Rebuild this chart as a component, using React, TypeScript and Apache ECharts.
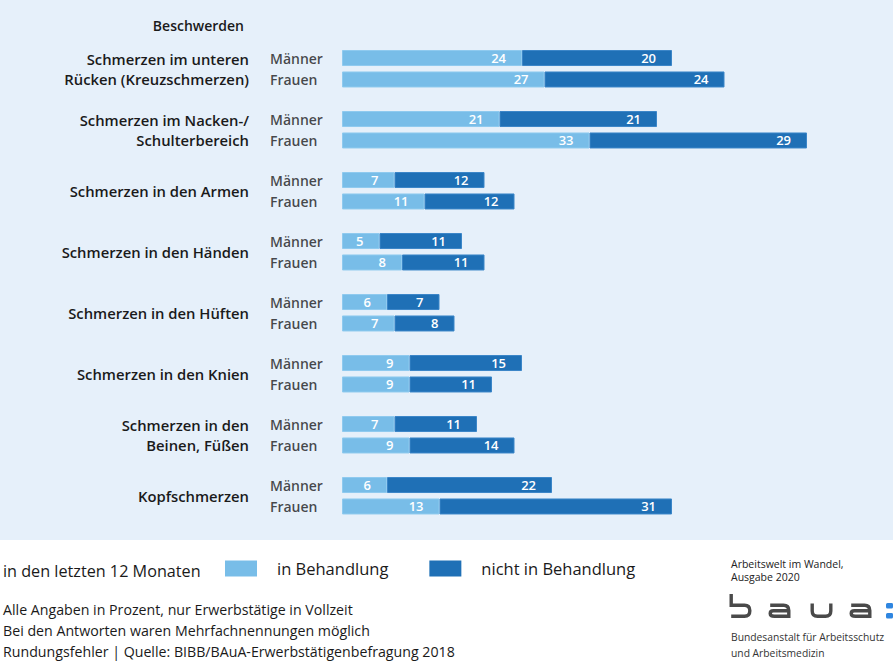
import React, { useEffect, useRef } from "react";
import * as echarts from "echarts";

const categories = [
  "Schmerzen im unteren\nRücken (Kreuzschmerzen)",
  "Schmerzen im Nacken-/\nSchulterbereich",
  "Schmerzen in den Armen",
  "Schmerzen in den Händen",
  "Schmerzen in den Hüften",
  "Schmerzen in den Knien",
  "Schmerzen in den\nBeinen, Füßen",
  "Kopfschmerzen",
];
const genderLabels = ["Männer", "Frauen"];
const menTreated = [24, 21, 7, 5, 6, 9, 7, 6];
const menUntreated = [20, 21, 12, 11, 7, 15, 11, 22];
const womenTreated = [27, 33, 11, 8, 7, 9, 9, 13];
const womenUntreated = [24, 29, 12, 11, 8, 11, 14, 31];
const seriesNames = ["in Behandlung", "nicht in Behandlung"];
const footerLines = [
  "Alle Angaben in Prozent, nur Erwerbstätige in Vollzeit",
  "Bei den Antworten waren Mehrfachnennungen möglich",
  "Rundungsfehler | Quelle: BIBB/BAuA-Erwerbstätigenbefragung 2018",
];

const LIGHT = "#78bde8";
const DARK = "#1f70b6";
const FONT = "'Open Sans', 'Noto Sans', sans-serif";

const LOGO_D =
  "M1.7,0 V11.2 H15 Q20.3,11.2 20.3,16.5 V17 Q20.3,22.3 15,22.3 H1.7 " +
  "M40.7,11.2 H54 Q59.3,11.2 59.3,16.5 V22.3 H45 Q40.7,22.3 40.7,19.5 Q40.7,16.8 44,16.8 H59.3 " +
  "M82.7,9.5 V17 Q82.7,22.3 88,22.3 H96 Q101.3,22.3 101.3,17 V9.5 " +
  "M121.7,11.2 H135 Q140.3,11.2 140.3,16.5 V22.3 H126 Q121.7,22.3 121.7,19.5 Q121.7,16.8 125,16.8 H140.3";

let registered = false;

export default function App() {
  const ref = useRef<HTMLDivElement>(null);
  useEffect(() => {
    if (!ref.current) return;
    if (!registered) {
      echarts.graphic.registerShape("logo", echarts.graphic.extendPath(LOGO_D, {}));
      registered = true;
    }
    const chart = echarts.init(ref.current, null, { renderer: "svg" });
    const valueLabel = {
      show: true,
      position: "insideRight",
      distance: 16,
      color: "#ffffff",
      fontFamily: FONT,
      fontWeight: 600,
      fontSize: 13,
    };
    const barCommon = {
      type: "bar",
      barWidth: 16,
      barGap: "34%",
      label: valueLabel,
    };
    const genderLabel = (idx: number) => ({
      show: true,
      position: "inside",
      align: "left",
      verticalAlign: "middle",
      offset: [-72, idx === 0 ? -10.75 : 10.75],
      formatter: genderLabels[idx],
      color: "#1a1a1a",
      fontFamily: FONT,
      fontWeight: 600,
      fontSize: 14,
    });
    const option: any = {
      animation: false,
      backgroundColor: "#ffffff",
      title: {
        text: "Beschwerden",
        right: 644,
        top: 13,
        textStyle: { fontFamily: FONT, fontWeight: 600, fontSize: 14, color: "#1a1a1a" },
      },
      legend: {
        data: seriesNames,
        left: 220,
        top: 555,
        itemWidth: 32,
        itemHeight: 16,
        itemGap: 41,
        icon: "rect",
        itemStyle: { borderWidth: 0 },
        textStyle: {
          fontFamily: FONT,
          fontSize: 16.5,
          color: "#1a1a1a",
          padding: [0, 0, 0, 15],
        },
        selectedMode: false,
      },
      grid: { left: 342, width: 525, top: 38.25, height: 488, containLabel: false },
      xAxis: {
        type: "value",
        min: 0,
        max: 70,
        show: false,
      },
      yAxis: {
        type: "category",
        data: categories,
        inverse: true,
        axisLine: { show: false },
        axisTick: { show: false },
        splitLine: { show: false },
        axisLabel: {
          margin: 93,
          fontFamily: FONT,
          fontWeight: 600,
          fontSize: 14.8,
          lineHeight: 20,
          color: "#1a1a1a",
          align: "right",
        },
      },
      series: [
        { ...barCommon, name: seriesNames[0], stack: "m", data: menTreated, itemStyle: { color: LIGHT, borderColor: "#8fcaef", borderWidth: 1 } },
        { ...barCommon, name: seriesNames[1], stack: "m", data: menUntreated, itemStyle: { color: DARK, borderColor: "#3b86c8", borderWidth: 1 } },
        { ...barCommon, name: seriesNames[0], stack: "f", data: womenTreated, itemStyle: { color: LIGHT, borderColor: "#8fcaef", borderWidth: 1 } },
        { ...barCommon, name: seriesNames[1], stack: "f", data: womenUntreated, itemStyle: { color: DARK, borderColor: "#3b86c8", borderWidth: 1 } },
        {
          type: "scatter",
          name: "m-label",
          symbolSize: 0,
          silent: true,
          data: categories.map((_, i) => [0, i]),
          label: genderLabel(0),
        },
        {
          type: "scatter",
          name: "f-label",
          symbolSize: 0,
          silent: true,
          data: categories.map((_, i) => [0, i]),
          label: genderLabel(1),
        },
      ],
      graphic: {
        elements: [
          {
            type: "rect",
            z: -100,
            silent: true,
            shape: { x: 0, y: 0, width: 893, height: 540 },
            style: { fill: "#e6f0fa" },
          },
          {
            type: "text",
            x: 3,
            y: 571,
            style: {
              text: "in den letzten 12 Monaten",
              fontFamily: FONT,
              fontSize: 16.2,
              fill: "#1a1a1a",
              verticalAlign: "middle",
            },
          },
          ...footerLines.map((t, i) => ({
            type: "text",
            x: 3,
            y: 609 + i * 21,
            style: {
              text: t,
              fontFamily: FONT,
              fontSize: 14.2,
              fill: "#1a1a1a",
              verticalAlign: "middle",
            },
          })),
          {
            type: "text",
            x: 731,
            y: 557,
            style: {
              text: "Arbeitswelt im Wandel,\nAusgabe 2020",
              fontFamily: FONT,
              fontSize: 10.5,
              lineHeight: 13,
              fill: "#222222",
            },
          },
          {
            type: "logo",
            x: 729.5,
            y: 594,
            style: { fill: "none", stroke: "#4a4a4a", lineWidth: 3.4 },
          },
          {
            type: "rect",
            shape: { x: 886, y: 603, width: 7, height: 5.5, r: 1.5 },
            style: { fill: "#2f86e0" },
          },
          {
            type: "rect",
            shape: { x: 886, y: 613, width: 7, height: 5.5, r: 1.5 },
            style: { fill: "#2f86e0" },
          },
          {
            type: "text",
            x: 731,
            y: 629,
            style: {
              text: "Bundesanstalt für Arbeitsschutz\nund Arbeitsmedizin",
              fontFamily: FONT,
              fontSize: 10.3,
              lineHeight: 16,
              fill: "#333333",
            },
          },
        ],
      },
    };
    chart.setOption(option);
    return () => chart.dispose();
  }, []);
  return (
    <div
      ref={ref}
      style={{ position: "fixed", left: 0, top: 0, width: 893, height: 663 }}
    />
  );
}
